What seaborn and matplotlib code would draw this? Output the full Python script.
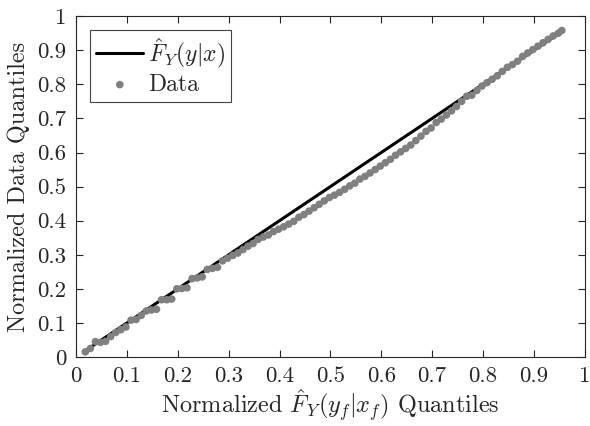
import seaborn as sns
import matplotlib
matplotlib.use("Agg")
import matplotlib.pyplot as plt

# model quantiles (x) vs data quantiles (y)
model_q = [0.018, 0.028, 0.038, 0.048, 0.058, 0.068, 0.078, 0.088, 0.098, 0.108,
           0.118, 0.128, 0.138, 0.148, 0.158, 0.168, 0.178, 0.188, 0.198, 0.208,
           0.218, 0.228, 0.238, 0.248, 0.258, 0.268, 0.278, 0.288, 0.298, 0.308,
           0.318, 0.328, 0.338, 0.348, 0.358, 0.368, 0.378, 0.388, 0.398, 0.408,
           0.418, 0.428, 0.438, 0.448, 0.458, 0.468, 0.478, 0.488, 0.498, 0.508,
           0.518, 0.528, 0.538, 0.548, 0.558, 0.568, 0.578, 0.588, 0.598, 0.608,
           0.618, 0.628, 0.638, 0.648, 0.658, 0.668, 0.678, 0.688, 0.698, 0.708,
           0.718, 0.728, 0.738, 0.748, 0.758, 0.768, 0.778, 0.788, 0.798, 0.808,
           0.818, 0.828, 0.838, 0.848, 0.858, 0.868, 0.878, 0.888, 0.898, 0.908,
           0.918, 0.928, 0.938, 0.948, 0.955]
data_q = [0.015, 0.025, 0.045, 0.043, 0.046, 0.060, 0.072, 0.080, 0.088, 0.108,
          0.110, 0.122, 0.135, 0.138, 0.140, 0.168, 0.168, 0.170, 0.200, 0.201,
          0.203, 0.230, 0.232, 0.235, 0.257, 0.260, 0.263, 0.282, 0.290, 0.298,
          0.305, 0.315, 0.325, 0.333, 0.345, 0.352, 0.358, 0.368, 0.375, 0.382,
          0.390, 0.398, 0.410, 0.418, 0.428, 0.438, 0.448, 0.458, 0.468, 0.475,
          0.483, 0.492, 0.502, 0.510, 0.522, 0.530, 0.540, 0.550, 0.560, 0.570,
          0.580, 0.592, 0.602, 0.612, 0.622, 0.635, 0.648, 0.662, 0.672, 0.688,
          0.698, 0.710, 0.722, 0.735, 0.750, 0.765, 0.768, 0.782, 0.795, 0.805,
          0.815, 0.825, 0.838, 0.850, 0.858, 0.868, 0.882, 0.892, 0.902, 0.912,
          0.922, 0.932, 0.942, 0.950, 0.958]
line_x = [0.018, 0.955]
line_y = [0.018, 0.955]

ticks = [0, 0.1, 0.2, 0.3, 0.4, 0.5, 0.6, 0.7, 0.8, 0.9, 1]
tick_labels = ["0", "0.1", "0.2", "0.3", "0.4", "0.5", "0.6", "0.7", "0.8", "0.9", "1"]

sns.set_style("ticks")
plt.rcParams["font.family"] = "serif"
plt.rcParams["font.serif"] = ["cmr10", "DejaVu Serif"]
plt.rcParams["mathtext.fontset"] = "cm"
plt.rcParams["axes.unicode_minus"] = False

fig = plt.figure(figsize=(5.9, 4.26), dpi=100)
ax = fig.add_axes([0.129, 0.162, 0.862, 0.800])

sns.lineplot(x=line_x, y=line_y, ax=ax, color="black", linewidth=2.2,
             label=r"$\hat{F}_Y(y|x)$")
sns.scatterplot(x=model_q, y=data_q, ax=ax, color="#808080", s=30,
                edgecolor="none", label="Data", zorder=3)

ax.set_xlim(0, 1)
ax.set_ylim(0, 1)
ax.set_xticks(ticks)
ax.set_xticklabels(tick_labels)
ax.set_yticks(ticks)
ax.set_yticklabels(tick_labels)
ax.tick_params(direction="in", top=True, right=True, labelsize=16.5, length=5,
               width=0.8, pad=7)
for sp in ax.spines.values():
    sp.set_visible(True)
    sp.set_linewidth(0.8)

ax.set_xlabel(r"Normalized $\hat{F}_Y(y_f|x_f)$ Quantiles", fontsize=17.5, labelpad=1)
ax.set_ylabel("Normalized Data Quantiles", fontsize=17.5, labelpad=5)

leg = ax.legend(loc="upper left", fontsize=17, fancybox=False, framealpha=1,
                edgecolor="#444444", handlelength=2.0, handletextpad=0.2,
                borderpad=0.25, labelspacing=0.15, borderaxespad=0.6)
leg.get_frame().set_linewidth(0.8)

fig.savefig("out.png", dpi=100)
